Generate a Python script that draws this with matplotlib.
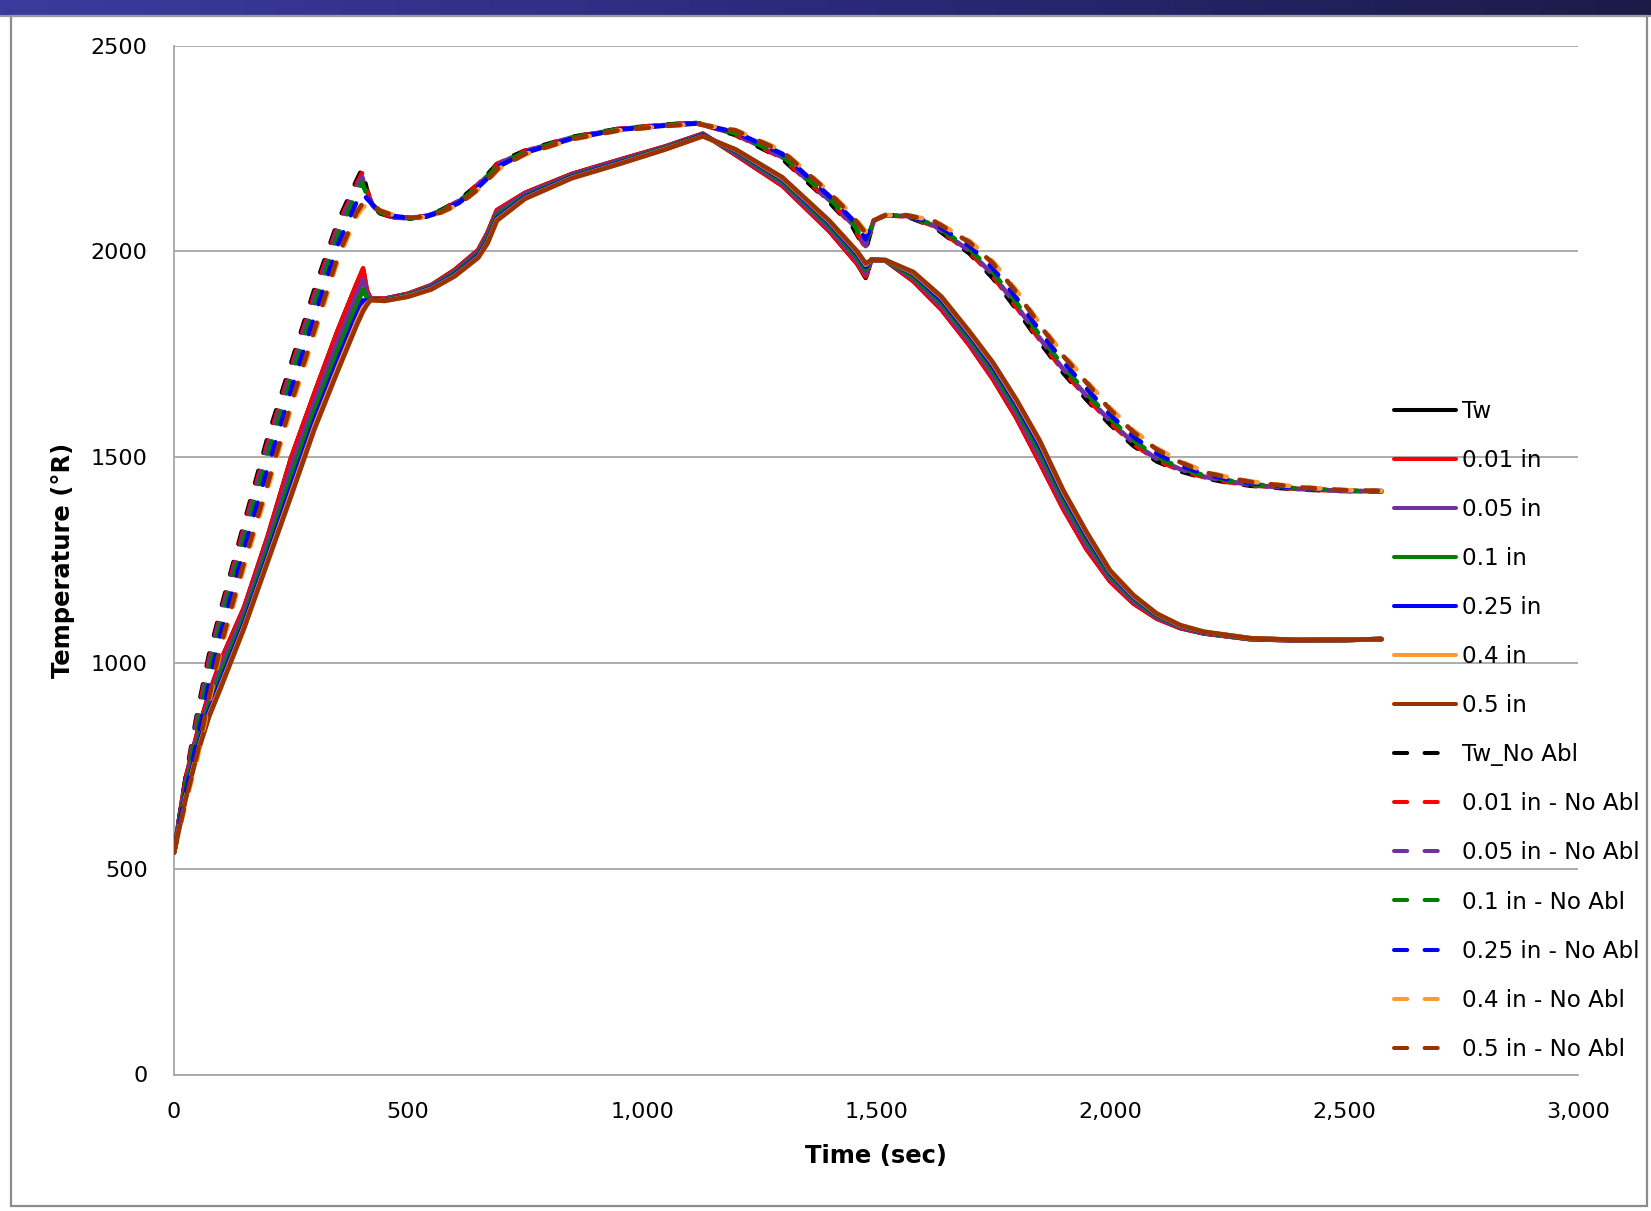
import numpy as np
import matplotlib
matplotlib.use("Agg")
import matplotlib.pyplot as plt
from matplotlib.lines import Line2D
from matplotlib.patches import Rectangle
from matplotlib.colors import LinearSegmentedColormap

plt.rcParams['lines.scale_dashes'] = False
plt.rcParams['font.family'] = ['DejaVu Sans']

W, H = 1651, 1211

# ---- ablation case (solid lines) ----
t_abl = np.array([0, 25, 50, 75, 100, 150, 200, 250, 300, 350, 390, 404, 412, 420, 450, 500, 550, 600,
                  650, 670, 690, 750, 850, 950, 1050, 1130, 1200, 1300, 1400, 1460, 1478, 1490, 1520,
                  1580, 1640, 1700, 1750, 1800, 1850, 1900, 1950, 2000, 2050, 2100, 2150, 2200, 2300,
                  2400, 2500, 2580])

tw = [540, 720, 830, 925, 1005, 1135, 1306, 1497, 1655, 1808, 1920, 1955, 1905, 1885, 1885, 1897, 1918, 1955,
      2003, 2045, 2100, 2142, 2188, 2222, 2255, 2286, 2235, 2160, 2050, 1970, 1936, 1980, 1978,
      1928, 1859, 1772, 1690, 1596, 1487, 1375, 1277, 1199, 1145, 1108, 1085, 1072, 1058, 1055, 1056, 1058]
d001 = [540, 720, 830, 925, 1005, 1135, 1306, 1497, 1655, 1808, 1920, 1959, 1905, 1885, 1885, 1897, 1918, 1955,
        2003, 2045, 2100, 2142, 2188, 2222, 2255, 2286, 2235, 2160, 2050, 1970, 1939, 1980, 1978,
        1928, 1859, 1772, 1690, 1596, 1487, 1375, 1277, 1199, 1145, 1108, 1085, 1072, 1058, 1055, 1056, 1058]
d005 = [540, 708, 818, 911, 989, 1123, 1291, 1474, 1633, 1784, 1895, 1933, 1896, 1884, 1884, 1895, 1916, 1951,
        1999, 2039, 2094, 2139, 2186, 2220, 2253, 2285, 2238, 2165, 2056, 1978, 1947, 1980, 1978,
        1934, 1867, 1780, 1700, 1607, 1500, 1386, 1287, 1206, 1150, 1111, 1087, 1073, 1058, 1055, 1056, 1058]
d01 = [540, 695, 805, 898, 973, 1110, 1276, 1451, 1612, 1759, 1870, 1907, 1888, 1884, 1882, 1894, 1913, 1948,
       1994, 2033, 2088, 2135, 2183, 2217, 2252, 2283, 2242, 2170, 2063, 1985, 1955, 1980, 1978,
       1939, 1875, 1789, 1710, 1618, 1514, 1398, 1298, 1212, 1155, 1114, 1089, 1074, 1059, 1056, 1056, 1058]
d025 = [540, 683, 793, 884, 956, 1098, 1260, 1428, 1590, 1735, 1845, 1881, 1879, 1883, 1881, 1892, 1911, 1944,
        1990, 2026, 2081, 2132, 2181, 2215, 2250, 2282, 2245, 2175, 2069, 1993, 1963, 1979, 1979,
        1945, 1882, 1797, 1720, 1629, 1527, 1409, 1308, 1219, 1160, 1117, 1090, 1075, 1060, 1056, 1056, 1058]
d04 = [540, 674, 784, 874, 945, 1089, 1250, 1412, 1575, 1718, 1828, 1863, 1873, 1882, 1880, 1891, 1909, 1941,
       1986, 2022, 2077, 2129, 2179, 2213, 2249, 2280, 2247, 2178, 2073, 1998, 1968, 1979, 1979,
       1948, 1888, 1802, 1727, 1636, 1536, 1416, 1315, 1223, 1163, 1119, 1091, 1076, 1060, 1056, 1056, 1058]
d05 = [540, 670, 780, 870, 940, 1085, 1245, 1405, 1568, 1710, 1820, 1855, 1870, 1882, 1880, 1890, 1908, 1940,
       1985, 2020, 2075, 2128, 2178, 2212, 2248, 2280, 2248, 2180, 2075, 2000, 1971, 1979, 1979,
       1950, 1890, 1805, 1730, 1640, 1540, 1420, 1318, 1225, 1165, 1120, 1092, 1076, 1060, 1056, 1056, 1058]

# ---- no ablation case (dashed lines) ----
t_na = np.array([0, 25, 50, 75, 100, 150, 200, 250, 300, 350, 390, 402, 412, 425, 440, 470, 505, 540, 570,
                 610, 644, 670, 693, 750, 850, 950, 1050, 1117, 1200, 1300, 1400, 1450, 1478, 1495, 1520,
                 1566, 1624, 1700, 1750, 1800, 1850, 1900, 1950, 2000, 2050, 2100, 2150, 2200, 2250, 2300,
                 2400, 2500, 2580])

tw_na = [540, 720, 880, 1020, 1130, 1340, 1547, 1727, 1907, 2072, 2172, 2200, 2150, 2110, 2093, 2082, 2080, 2087,
         2100, 2125, 2158, 2187, 2216, 2245, 2278, 2298, 2308, 2313, 2283, 2225, 2120, 2060, 2004, 2075, 2088,
         2085, 2060, 1995, 1935, 1860, 1780, 1705, 1640, 1580, 1528, 1490, 1466, 1450, 1439, 1431, 1422, 1418, 1417]
d001_na = [540, 714, 869, 1009, 1120, 1330, 1535, 1716, 1896, 2063, 2163, 2191, 2147, 2111, 2094, 2083, 2080, 2087,
           2099, 2124, 2157, 2186, 2214, 2244, 2277, 2298, 2308, 2313, 2284, 2227, 2123, 2063, 2008, 2075, 2088,
           2085, 2062, 1998, 1939, 1865, 1785, 1710, 1645, 1584, 1532, 1493, 1468, 1452, 1440, 1432, 1423, 1418, 1417]
d005_na = [540, 708, 858, 997, 1111, 1319, 1522, 1705, 1885, 2053, 2155, 2181, 2143, 2111, 2094, 2083, 2080, 2086,
           2099, 2123, 2155, 2184, 2213, 2243, 2277, 2297, 2307, 2312, 2285, 2229, 2125, 2066, 2013, 2075, 2088,
           2086, 2063, 2001, 1943, 1869, 1789, 1714, 1649, 1588, 1535, 1496, 1471, 1453, 1442, 1433, 1423, 1418, 1417]
d01_na = [540, 699, 842, 980, 1096, 1303, 1504, 1689, 1869, 2039, 2142, 2167, 2138, 2112, 2095, 2084, 2081, 2086,
          2098, 2121, 2153, 2182, 2210, 2242, 2276, 2297, 2307, 2312, 2287, 2232, 2129, 2070, 2019, 2075, 2088,
          2086, 2065, 2006, 1949, 1876, 1796, 1721, 1656, 1594, 1541, 1501, 1474, 1456, 1444, 1435, 1424, 1419, 1417]
d025_na = [540, 684, 814, 951, 1072, 1277, 1473, 1662, 1842, 2016, 2120, 2143, 2129, 2113, 2097, 2086, 2081, 2085,
           2096, 2119, 2150, 2178, 2206, 2240, 2274, 2296, 2306, 2311, 2290, 2237, 2135, 2077, 2030, 2075, 2088,
           2087, 2069, 2013, 1959, 1887, 1807, 1732, 1667, 1604, 1550, 1509, 1480, 1460, 1447, 1437, 1426, 1419, 1418]
d04_na = [540, 660, 770, 905, 1033, 1235, 1423, 1619, 1799, 1979, 2085, 2105, 2115, 2115, 2100, 2088, 2082, 2084,
          2094, 2115, 2145, 2172, 2200, 2236, 2272, 2294, 2305, 2310, 2295, 2245, 2145, 2088, 2048, 2075, 2088,
          2088, 2075, 2025, 1975, 1905, 1825, 1750, 1685, 1620, 1565, 1522, 1490, 1466, 1452, 1441, 1428, 1420, 1418]
d05_na = [540, 666, 781, 917, 1043, 1246, 1435, 1630, 1810, 1988, 2094, 2115, 2119, 2115, 2099, 2087, 2082, 2084,
          2095, 2116, 2146, 2174, 2202, 2237, 2273, 2294, 2305, 2310, 2294, 2243, 2143, 2085, 2044, 2075, 2088,
          2088, 2074, 2022, 1971, 1901, 1821, 1746, 1681, 1616, 1561, 1519, 1488, 1464, 1451, 1440, 1427, 1420, 1418]

labels_abl = ["Tw", "0.01 in", "0.05 in", "0.1 in", "0.25 in", "0.4 in", "0.5 in"]
labels_na = ["Tw_No Abl", "0.01 in - No Abl", "0.05 in - No Abl", "0.1 in - No Abl",
             "0.25 in - No Abl", "0.4 in - No Abl", "0.5 in - No Abl"]
colors = ["#000000", "#ff0000", "#7030a0", "#008000", "#0000ff", "#ff9933", "#993300"]

series_abl = [tw, d001, d005, d01, d025, d04, d05]
series_na = [tw_na, d001_na, d005_na, d01_na, d025_na, d04_na, d05_na]

fig = plt.figure(figsize=(W / 100, H / 100), dpi=100)

# slide banner + frame
cm = LinearSegmentedColormap.from_list("bar", ["#3b3b9e", "#2a2a7a", "#1b1b48"])
bax = fig.add_axes([0, 1 - 15 / H, 1, 15 / H])
bax.imshow(np.linspace(0, 1, 256)[None, :], aspect="auto", cmap=cm)
bax.axis("off")
fig.add_artist(Line2D([0, 1], [1 - 16 / H, 1 - 16 / H], transform=fig.transFigure, color="#9a9a9a", lw=1.5))
fig.add_artist(Rectangle((11 / W, 1 - 1206 / H), (1647 - 11) / W, (1206 - 16) / H, transform=fig.transFigure,
                         fill=False, edgecolor="#8c8c8c", lw=1.6))

ax = fig.add_axes([174 / W, 1 - 1074.5 / H, (1578 - 174) / W, (1074.5 - 45.7) / H])

for vals, c in zip(series_abl, colors):
    ax.plot(t_abl, vals, color=c, lw=3.4, solid_capstyle="round", solid_joinstyle="round", zorder=3)
for vals, c in zip(series_na, colors):
    ax.plot(t_na, vals, color=c, lw=3.4, linestyle=(0, (9.2, 13.5)), dash_capstyle="round", zorder=4)

ax.set_xlim(0, 3000)
ax.set_ylim(0, 2500)
xt = np.arange(0, 3001, 500)
ax.set_xticks(xt)
ax.set_xticklabels(["{:,}".format(v) for v in xt])
ax.set_yticks(np.arange(0, 2501, 500))
ax.grid(axis="y", color="#a6a6a6", lw=1.3)
ax.set_axisbelow(True)
for s in ["top", "right"]:
    ax.spines[s].set_visible(False)
for s in ["left", "bottom"]:
    ax.spines[s].set_color("#a6a6a6")
    ax.spines[s].set_linewidth(1.3)
ax.tick_params(axis="both", length=0, labelsize=16)
ax.tick_params(axis="x", pad=20)
ax.tick_params(axis="y", pad=19)

fig.text(876 / W, 1 - 1156 / H, "Time (sec)", ha="center", va="center", fontweight="bold", size=17.5)
fig.text(63 / W, 1 - 560 / H, "Temperature (°R)", ha="center", va="center", rotation=90,
         fontweight="bold", size=17.5)

handles = [Line2D([], [], color=c, lw=2.9, solid_capstyle="round") for c in colors]
handles += [Line2D([], [], color=c, lw=2.9, linestyle=(0, (9.5, 12.5, 9.5, 40)), dash_capstyle="round")
            for c in colors]
ax.legend(handles, labels_abl + labels_na, loc="upper left", bbox_to_anchor=(1394 / W, 1 - 400 / H),
          bbox_transform=fig.transFigure, frameon=False, fontsize=16.6, borderpad=0, borderaxespad=0,
          handlelength=2.7, handletextpad=0.26, labelspacing=1.13)

fig.savefig("out.png", dpi=100)
